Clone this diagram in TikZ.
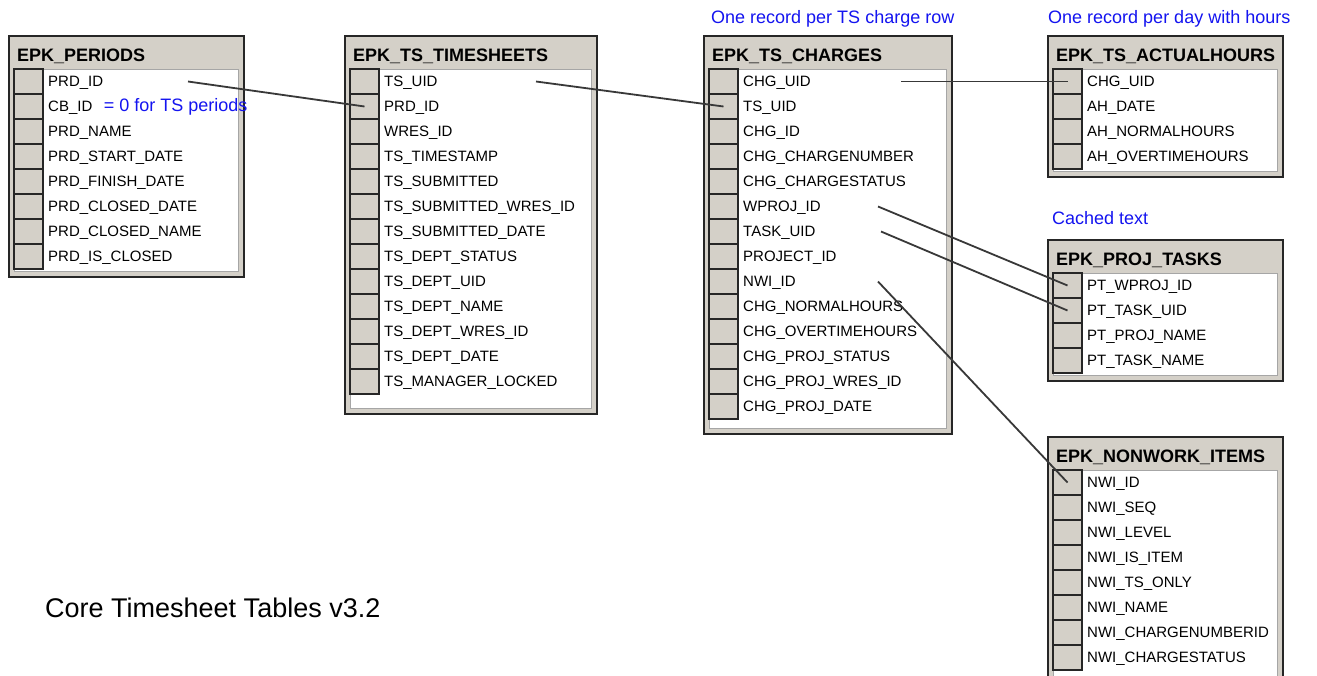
\documentclass[tikz,border=0pt]{standalone}
\usepackage{fontspec}
\setsansfont{Liberation Sans}
\usepackage{tikz}
\usetikzlibrary{positioning}
\definecolor{framegray}{HTML}{D4D0C8}
\definecolor{edgegray}{HTML}{262626}
\definecolor{linkgray}{HTML}{383838}
\definecolor{noteblue}{HTML}{1414F0}
\tikzset{
  tblframe/.style = {fill=framegray, draw=edgegray, line width=1.6pt},
  tblbody/.style = {fill=white, draw=gray!70, line width=0.8pt},
  tbltitle/.style = {anchor=west, inner sep=0pt,
    font=\sffamily\bfseries\fontsize{18}{20}\selectfont},
  keycell/.style = {fill=framegray, draw=edgegray, line width=1.3pt,
    minimum width=29pt, minimum height=25pt, inner sep=0pt},
  fld/.style = {anchor=west, inner sep=0pt, text height=11pt, text depth=2pt,
    font=\sffamily\fontsize{15}{17}\selectfont},
  note/.style = {inner sep=0pt, text=noteblue, text height=12.5pt, text depth=3.5pt,
    font=\sffamily\fontsize{18}{20}\selectfont},
  link/.style = {draw=linkgray, line width=1.8pt}
}
\begin{document}
\begin{tikzpicture}[x=1pt, y=-1pt]
\useasboundingbox (0,0) rectangle (1317,675);
\clip (0,0) rectangle (1317,675);
\fill[white] (0,0) rectangle (1317,675);
% tables: name / left / top / right / bottom / title / fields
\foreach \n/\xa/\ya/\xb/\yb/\tname/\fields in {
  per/9/36/244/277/EPK\_PERIODS/{PRD\_ID,CB\_ID,PRD\_NAME,PRD\_START\_DATE,PRD\_FINISH\_DATE,PRD\_CLOSED\_DATE,PRD\_CLOSED\_NAME,PRD\_IS\_CLOSED},
  ts/345/36/597/414/EPK\_TS\_TIMESHEETS/{TS\_UID,PRD\_ID,WRES\_ID,TS\_TIMESTAMP,TS\_SUBMITTED,TS\_SUBMITTED\_WRES\_ID,TS\_SUBMITTED\_DATE,TS\_DEPT\_STATUS,TS\_DEPT\_UID,TS\_DEPT\_NAME,TS\_DEPT\_WRES\_ID,TS\_DEPT\_DATE,TS\_MANAGER\_LOCKED},
  chg/704/36/952/434/EPK\_TS\_CHARGES/{CHG\_UID,TS\_UID,CHG\_ID,CHG\_CHARGENUMBER,CHG\_CHARGESTATUS,WPROJ\_ID,TASK\_UID,PROJECT\_ID,NWI\_ID,CHG\_NORMALHOURS,CHG\_OVERTIMEHOURS,CHG\_PROJ\_STATUS,CHG\_PROJ\_WRES\_ID,CHG\_PROJ\_DATE},
  act/1048/36/1283/177/EPK\_TS\_ACTUALHOURS/{CHG\_UID,AH\_DATE,AH\_NORMALHOURS,AH\_OVERTIMEHOURS},
  pt/1048/240/1283/381/EPK\_PROJ\_TASKS/{PT\_WPROJ\_ID,PT\_TASK\_UID,PT\_PROJ\_NAME,PT\_TASK\_NAME},
  nwi/1048/437/1283/700/EPK\_NONWORK\_ITEMS/{NWI\_ID,NWI\_SEQ,NWI\_LEVEL,NWI\_IS\_ITEM,NWI\_TS\_ONLY,NWI\_NAME,NWI\_CHARGENUMBERID,NWI\_CHARGESTATUS}}{
  \draw[tblframe] (\xa,\ya) rectangle (\xb,\yb);
  \draw[tblbody] (\xa+5,\ya+33) rectangle (\xb-6,\yb-6);
  \begin{scope}
    \clip (\xa,\ya) rectangle (\xb-6,\ya+33);
    \node[tbltitle] (\n) at (\xa+8,\ya+20) {\tname};
  \end{scope}
  \foreach \f [count=\i] in \fields {
    \node[keycell] (\n-k\i) at (\xa+19.5,\ya+20.5+25*\i) {};
    \node[fld] (\n-\i) at (\xa+39,\ya+20.5+25*\i) {\f};
  }
}
% notes
\node[note, right=11pt of per-2] (cbnote) {= 0 for TS periods};
\node[note, anchor=west] (chgnote) at (711,19) {One record per TS charge row};
\node[note, anchor=west] (actnote) at (1048,19) {One record per day with hours};
\node[note, anchor=west] (ptnote) at (1052,220) {Cached text};
\node[anchor=west, inner sep=0pt, font=\sffamily\fontsize{27}{30}\selectfont] (caption) at (45,608) {Core Timesheet Tables v3.2};
% links
\draw[link] ([xshift=140pt]per-1.west) -- (ts-k2.center);
\draw[link] ([xshift=152pt]ts-1.west) -- (chg-k2.center);
\draw[link] ([xshift=158pt]chg-1.west) -- (act-k1.center);
\draw[link] ([xshift=135pt]chg-6.west) -- (pt-k1.center);
\draw[link] ([xshift=138pt]chg-7.west) -- (pt-k2.center);
\draw[link] ([xshift=135pt]chg-9.west) -- (nwi-k1.center);
\end{tikzpicture}
\end{document}
